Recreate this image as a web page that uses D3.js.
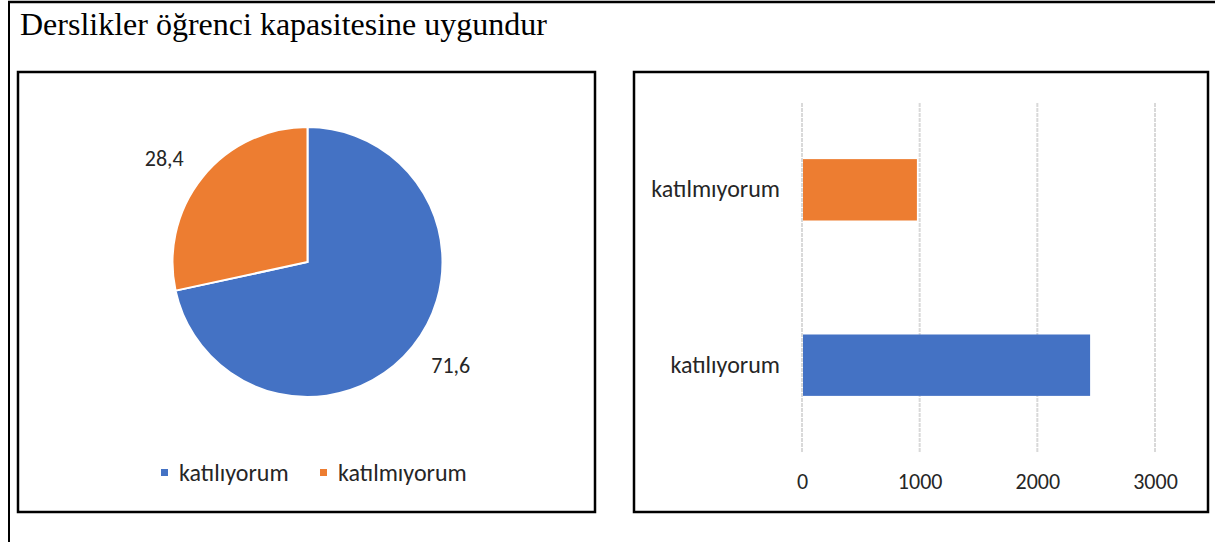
<!DOCTYPE html>
<html>
<head>
<meta charset="utf-8">
<script src="https://cdn.jsdelivr.net/npm/d3@7"></script>
<style>
  body { margin: 0; background: #fff; }
  svg text { font-family: Calibri, Carlito, Lato, sans-serif; fill: #262626; }
</style>
</head>
<body>
<div id="chart"></div>
<script>
// data
const categories = ['katılıyorum', 'katılmıyorum'];
const percents = [71.6, 28.4];
const counts = [2440, 968];
const percentLabels = ['71,6', '28,4'];
const xTicks = [0, 1000, 2000, 3000];
const colors = ['#4472C4', '#ED7D31'];

const width = 1215, height = 542;
const font = 'Calibri, Carlito, Lato, sans-serif';

const svg = d3.select('#chart')
  .append('svg')
  .attr('width', width)
  .attr('height', height)
  .attr('viewBox', [0, 0, width, height]);

// outer table cell lines
svg.append('line').attr('x1', 9).attr('x2', 9).attr('y1', 1).attr('y2', height)
  .attr('stroke', '#000').attr('stroke-width', 2);
svg.append('line').attr('x1', 8).attr('x2', width).attr('y1', 2).attr('y2', 2)
  .attr('stroke', '#000').attr('stroke-width', 2.5);

svg.append('text')
  .attr('x', 20).attr('y', 35)
  .style('font-family', '"Liberation Serif", "Times New Roman", serif')
  .style('font-size', '32px')
  .style('fill', '#000')
  .text('Derslikler öğrenci kapasitesine uygundur');

// chart frames
const frames = [{ x: 18, y: 72, w: 577, h: 440 }, { x: 634, y: 72, w: 574, h: 440 }];
svg.selectAll('rect.frame')
  .data(frames)
  .join('rect')
  .attr('class', 'frame')
  .attr('x', d => d.x).attr('y', d => d.y)
  .attr('width', d => d.w).attr('height', d => d.h)
  .attr('fill', '#fff').attr('stroke', '#000').attr('stroke-width', 2.5);

// ---- pie ----
const cx = 307.5, cy = 262, r = 135;
const pie = d3.pie().sort(null).value(d => d)(percents);
const arc = d3.arc().innerRadius(0).outerRadius(r);

const gPie = svg.append('g').attr('transform', `translate(${cx},${cy})`);
gPie.selectAll('path')
  .data(pie)
  .join('path')
  .attr('d', arc)
  .attr('fill', (d, i) => colors[i])
  .attr('stroke', '#fff')
  .attr('stroke-width', 2);

// data labels outside the pie (slightly flattened ring, like excel's best fit)
const rx = 184, ry = 165;
gPie.selectAll('text')
  .data(pie)
  .join('text')
  .attr('x', d => Math.sin((d.startAngle + d.endAngle) / 2) * rx)
  .attr('y', d => -Math.cos((d.startAngle + d.endAngle) / 2) * ry)
  .attr('text-anchor', 'middle')
  .attr('dy', '0.35em')
  .style('font-size', '22px')
  .text((d, i) => percentLabels[i]);

// legend
const legend = svg.append('g').attr('transform', 'translate(161,473)');
const legendX = [0, 159];
const lg = legend.selectAll('g')
  .data(categories)
  .join('g')
  .attr('transform', (d, i) => `translate(${legendX[i]},0)`);
lg.append('rect').attr('x', 0).attr('y', -4).attr('width', 7).attr('height', 7)
  .attr('fill', (d, i) => colors[i]);
lg.append('text').attr('x', 18).attr('dy', '0.35em')
  .style('font-size', '24px').text(d => d);

// ---- horizontal bar ----
const x = d3.scaleLinear().domain([0, 3000]).range([802, 1155]);
const y = d3.scaleBand().domain(['katılmıyorum', 'katılıyorum']).range([103, 452]).paddingInner(0.65).paddingOuter(0.32);

svg.append('g')
  .selectAll('line')
  .data(xTicks)
  .join('line')
  .attr('x1', d => x(d)).attr('x2', d => x(d))
  .attr('y1', 103).attr('y2', 452)
  .attr('stroke', '#d9d9d9').attr('stroke-width', 2)
  .attr('stroke-dasharray', '4,1');

svg.append('g')
  .selectAll('rect')
  .data(categories)
  .join('rect')
  .attr('x', x(0) + 1)
  .attr('y', d => y(d))
  .attr('height', y.bandwidth())
  .attr('width', (d, i) => x(counts[i]) - x(0))
  .attr('fill', (d, i) => colors[i]);

const xAxis = svg.append('g')
  .attr('transform', 'translate(0,481)')
  .call(d3.axisBottom(x).tickValues(xTicks).tickSize(0).tickPadding(0).tickFormat(d3.format('d')));
xAxis.select('.domain').remove();
xAxis.selectAll('text').attr('dy', '0.35em').style('font-size', '22px').style('fill', '#262626')
  .style('font-family', font);

const yAxis = svg.append('g')
  .attr('transform', 'translate(780,0)')
  .call(d3.axisLeft(y).tickSize(0).tickPadding(0));
yAxis.select('.domain').remove();
yAxis.selectAll('text').style('font-size', '24px').style('fill', '#262626')
  .style('font-family', font);
</script>
</body>
</html>
